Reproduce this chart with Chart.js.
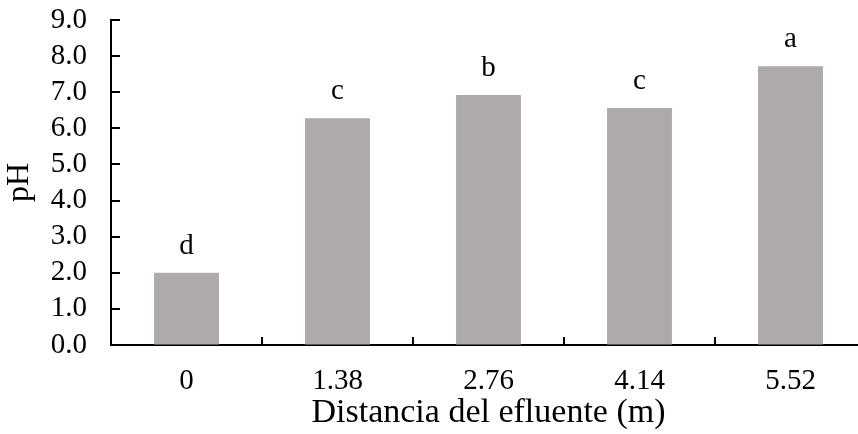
<!DOCTYPE html>
<html>
<head>
<meta charset="utf-8">
<script src="https://cdn.jsdelivr.net/npm/chart.js@4"></script>
<style>
  html, body { margin: 0; padding: 0; background: #fff; overflow: hidden; }
</style>
</head>
<body>
<canvas id="phChart" width="866" height="434"></canvas>
<script>
const distances = ['0', '1.38', '2.76', '4.14', '5.52'];
const phValues = [2.0, 6.28, 6.92, 6.56, 7.72];
const letters = ['d', 'c', 'b', 'c', 'a'];

const serif = 'Liberation Serif, Times New Roman, serif';

// inward tick marks + significance letters
const extras = {
  id: 'extras',
  afterDatasetsDraw(chart) {
    const ctx = chart.ctx;
    const xs = chart.scales.x, ys = chart.scales.y;
    const area = chart.chartArea;
    ctx.save();
    ctx.strokeStyle = '#000';
    ctx.lineWidth = 2;
    ys.ticks.forEach((t, i) => {
      const y = Math.round(ys.getPixelForTick(i));
      ctx.beginPath();
      ctx.moveTo(area.left, y);
      ctx.lineTo(area.left + 9, y);
      ctx.stroke();
    });
    for (let i = 1; i < distances.length; i++) {
      const x = Math.round((xs.getPixelForTick(i - 1) + xs.getPixelForTick(i)) / 2);
      ctx.beginPath();
      ctx.moveTo(x, area.bottom);
      ctx.lineTo(x, area.bottom - 8);
      ctx.stroke();
    }
    ctx.fillStyle = '#000';
    ctx.font = '29px ' + serif;
    ctx.textAlign = 'center';
    ctx.textBaseline = 'alphabetic';
    chart.getDatasetMeta(0).data.forEach((bar, i) => {
      ctx.fillText(letters[i], bar.x, bar.y - 19);
    });
    ctx.restore();
  }
};

new Chart(document.getElementById('phChart').getContext('2d'), {
  type: 'bar',
  data: {
    labels: distances,
    datasets: [{
      data: phValues,
      backgroundColor: '#aeaaa9',
      borderWidth: 0,
      barPercentage: 0.43,
      categoryPercentage: 1
    }]
  },
  options: {
    responsive: false,
    animation: false,
    layout: { padding: { top: 20, right: 0, bottom: 0, left: 0 } },
    plugins: { legend: { display: false }, tooltip: { enabled: false } },
    scales: {
      x: {
        grid: { display: true, drawOnChartArea: false, drawTicks: false },
        border: { display: true, color: '#000', width: 2 },
        ticks: { color: '#000', padding: 19, font: { family: serif, size: 29 } },
        title: {
          display: true, text: 'Distancia del efluente (m)', color: '#000',
          font: { family: serif, size: 34 }, padding: { top: 0, bottom: 1 }
        },
        afterFit(s) { s.height = 89; }
      },
      y: {
        min: 0,
        max: 9,
        grid: { display: true, drawOnChartArea: false, drawTicks: false },
        border: { display: true, color: '#000', width: 2 },
        ticks: {
          stepSize: 1, autoSkip: false, color: '#000', padding: 24,
          font: { family: serif, size: 29 },
          callback: v => v.toFixed(1)
        },
        title: {
          display: true, text: 'pH', color: '#000',
          font: { family: serif, size: 32 }, padding: { top: 0, bottom: 0 }
        },
        afterFit(s) {
          s.width = 111;
          s.paddingTop = 0;
          s.paddingBottom = 0;
        }
      }
    }
  },
  plugins: [extras]
});
</script>
</body>
</html>
